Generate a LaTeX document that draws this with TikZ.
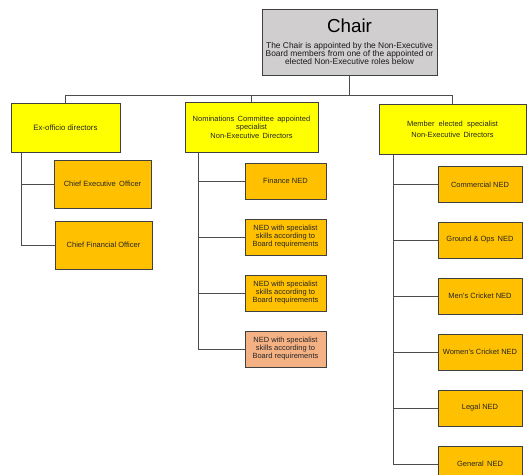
\documentclass[tikz,border=0pt]{standalone}
\usepackage{fontspec}
\setmainfont{Liberation Sans}
\definecolor{yel}{HTML}{FFFF00}
\definecolor{org}{HTML}{FFC000}
\definecolor{sal}{HTML}{F4B183}
\definecolor{chairgray}{HTML}{D0CECE}
\definecolor{edge}{HTML}{404040}
\begin{document}
\begin{tikzpicture}[x=1pt,y=-1pt,
  box/.style={draw=edge,line width=1pt,inner sep=0pt,align=center,
    font=\fontsize{7.5}{8}\selectfont,text=black!85},
  grp/.style={box,fill=yel},
  item/.style={box,fill=org},
  conn/.style={draw=black!70,line width=0.9pt}]
\useasboundingbox (0,0) rectangle (527,474);
\clip (0,0) rectangle (527,474);
\fill[white] (0,0) rectangle (527,474);
% Chair
\node[box,fill=chairgray,minimum width=175,minimum height=66] (chair) at (349.5,42.5) {};
\node[font=\fontsize{18.8}{20}\selectfont,text=black,inner sep=0pt] (chairt) at (349.5,25.5) {Chair};
\node[font=\fontsize{8.4}{8.4}\selectfont,align=center,text=black!90,inner sep=0pt] (chaird) at (349.5,53.5)
  {The Chair is appointed by the Non-Executive\\Board members from one of the appointed or\\elected Non-Executive roles below};
% groups
\node[grp,minimum width=109,minimum height=49,font=\fontsize{7.8}{8}\selectfont] (ex) at (65.5,127.5) {Ex-officio directors};
\node[grp,minimum width=133,minimum height=50,font=\fontsize{7.5}{8.5}\selectfont] (nom) at (251.5,127) {Nominations\, Committee\, appointed\\specialist\\Non-Executive\, Directors};
\node[grp,minimum width=147,minimum height=50,font=\fontsize{7.5}{11}\selectfont] (mem) at (452.5,129) {Member\; elected\; specialist\\Non-Executive\, Directors};
% ex-officio children
\node[item,minimum width=97,minimum height=48] (ceo) at (102.5,184) {Chief Executive\, Officer};
\node[item,minimum width=97,minimum height=48] (cfo) at (103.5,245) {Chief Financial Officer};
% nominations children
\node[item,minimum width=81,minimum height=36] (fin) at (285.5,181) {Finance NED};
\node[item,minimum width=81,minimum height=36] (ned1) at (285.5,237) {NED with specialist\\skills according to\\Board requirements};
\node[item,minimum width=81,minimum height=36] (ned2) at (285.5,293) {NED with specialist\\skills according to\\Board requirements};
\node[box,fill=sal,minimum width=81,minimum height=36] (ned3) at (285.5,349) {NED with specialist\\skills according to\\Board requirements};
% member children
\node[item,minimum width=84,minimum height=36] (com) at (480,184.5) {Commercial NED};
\node[item,minimum width=84,minimum height=36] (grd) at (480,240) {Ground \& Ops\, NED};
\node[item,minimum width=84,minimum height=36] (men) at (480,296) {Men’s Cricket NED};
\node[item,minimum width=84,minimum height=36] (wom) at (480,352) {Women’s Cricket NED};
\node[item,minimum width=84,minimum height=36] (leg) at (480,408) {Legal NED};
\node[item,minimum width=84,minimum height=36] (gen) at (480,464) {General\, NED};
% connectors
\coordinate (bus) at (349.5,95);
\draw[conn] (chair.south) -- (bus);
\draw[conn] (ex.north) |- (bus);
\draw[conn] (nom.north) |- (bus);
\draw[conn] (mem.north) |- (bus);
\draw[conn] ([xshift=11pt]ex.south west) |- (ceo.west);
\draw[conn] ([xshift=11pt]ex.south west) |- (cfo.west);
\foreach \c in {fin,ned1,ned2,ned3}
  \draw[conn] ([xshift=14pt]nom.south west) |- (\c.west);
\foreach \c in {com,grd,men,wom,leg,gen}
  \draw[conn] ([xshift=15pt]mem.south west) |- (\c.west);
\end{tikzpicture}
\end{document}
